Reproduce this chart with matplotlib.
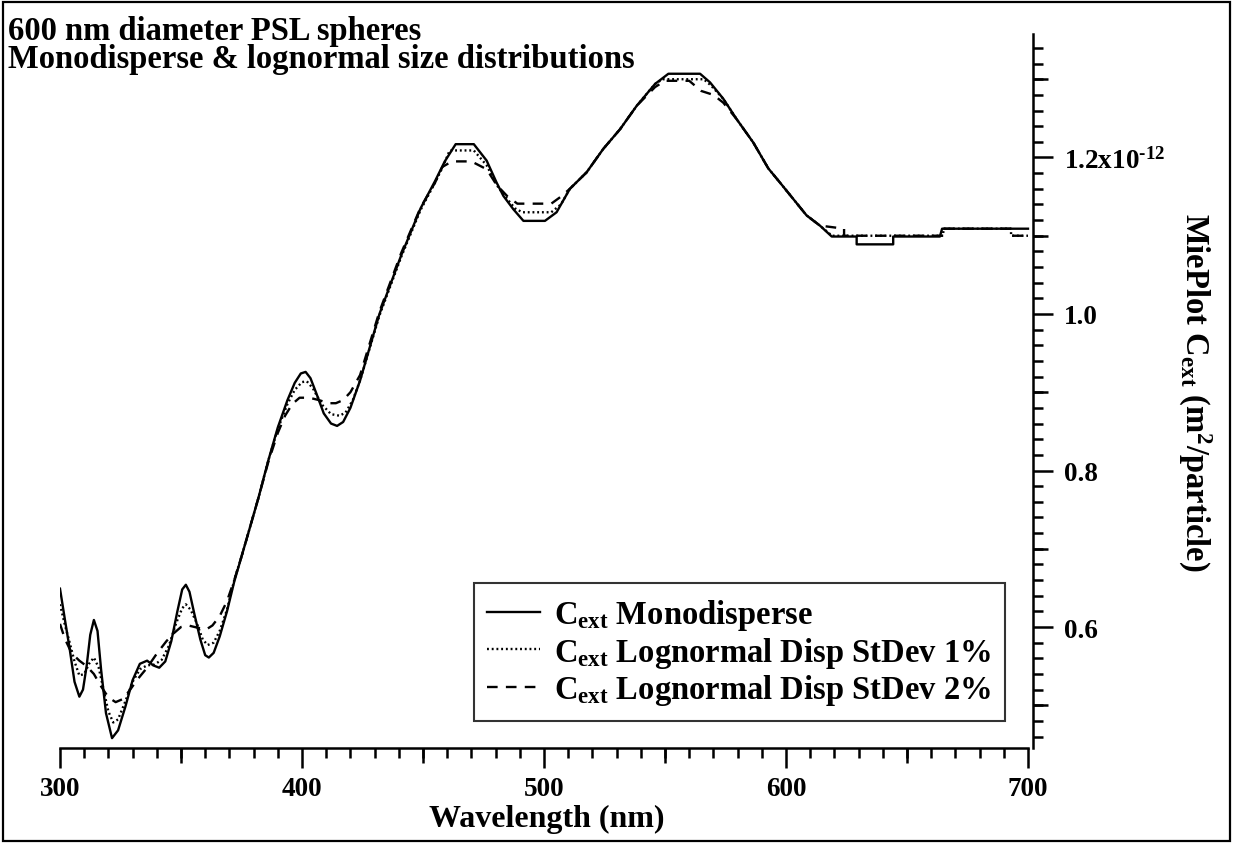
import matplotlib
matplotlib.use("Agg")
import matplotlib.pyplot as plt
from matplotlib.patches import Rectangle
from matplotlib.ticker import MultipleLocator, FixedLocator, NullFormatter

plt.rcParams["font.family"] = ["Liberation Serif", "DejaVu Serif"]
plt.rcParams["font.weight"] = "bold"
plt.rcParams["mathtext.fontset"] = "custom"
plt.rcParams["mathtext.rm"] = "Liberation Serif:bold"
plt.rcParams["mathtext.bf"] = "Liberation Serif:bold"
plt.rcParams["mathtext.it"] = "Liberation Serif:bold"

# Cext in units of 1e-12 m^2/particle
wl_mono = [300, 302, 304, 306, 308, 309.5, 311, 312.5, 314, 315.5, 317, 319, 321.5,
           324, 327, 330, 333, 336, 338.5, 341, 343.5, 346, 348.5, 350.5, 352,
           353.5, 355.5, 358, 360, 361.5, 363.5, 366, 369, 372, 375, 378, 382,
           386, 390, 394, 397, 399.5, 401.5, 403.5, 406, 409, 412, 414.5, 417,
           420, 424, 432, 441, 449, 455, 459, 463.5, 471, 476.3, 480.4, 483.2,
           487.3, 491.5, 500.4, 505.2, 510.7, 517.6, 524.5, 531.4, 538.3, 545.9,
           551.4, 564.5, 568.6, 574.1, 579.6, 586.5, 592.7, 597.5, 603, 608.5,
           614, 618.9, 629.2, 629.2, 644.3, 644.3, 663.6, 664.5, 700]
c_mono = [0.649, 0.610, 0.572, 0.530, 0.511, 0.520, 0.550, 0.590, 0.609, 0.595, 0.545,
          0.490, 0.458, 0.468, 0.498, 0.532, 0.553, 0.557, 0.551, 0.548, 0.556, 0.582,
          0.620, 0.648, 0.654, 0.645, 0.617, 0.584, 0.564, 0.561, 0.567, 0.588, 0.620,
          0.658, 0.690, 0.722, 0.765, 0.812, 0.855, 0.890, 0.912, 0.924, 0.926, 0.918,
          0.898, 0.873, 0.860, 0.857, 0.862, 0.880, 0.915, 1.000, 1.075, 1.135, 1.170,
          1.195, 1.217, 1.217, 1.196, 1.168, 1.151, 1.134, 1.119, 1.119, 1.130, 1.160,
          1.181, 1.211, 1.236, 1.266, 1.294, 1.307, 1.307, 1.296, 1.275, 1.249, 1.219,
          1.186, 1.168, 1.147, 1.126, 1.113, 1.099, 1.099, 1.089, 1.089, 1.099, 1.099,
          1.109, 1.109]

wl_sd1 = [300, 302, 304, 306, 308, 310, 312, 314, 316, 318, 320, 322, 324, 327,
          330, 333, 336, 339, 342, 345, 348, 350.5, 352, 354, 356.5, 359, 361,
          363.5, 366, 369, 372, 375, 378, 382, 386, 390, 394, 397, 400, 402,
          404.5, 408, 412, 415.5, 418, 421, 424, 432, 441, 449, 455, 458.5, 461,
          471, 476.3, 480.4, 484, 488, 491, 503, 507, 510.7, 517.6, 524.5, 531.4,
          538.3, 545.9, 549, 566, 569, 574.1, 579.6, 586.5, 592.7, 597.5, 603,
          608.5, 614, 619, 665, 665, 693, 693, 700]
c_sd1 = [0.629, 0.603, 0.580, 0.556, 0.538, 0.540, 0.553, 0.561, 0.548, 0.520, 0.492,
         0.478, 0.482, 0.505, 0.530, 0.546, 0.551, 0.552, 0.558, 0.576, 0.605, 0.624,
         0.629, 0.622, 0.605, 0.584, 0.577, 0.580, 0.595, 0.622, 0.660, 0.690, 0.722,
         0.765, 0.812, 0.853, 0.885, 0.903, 0.913, 0.914, 0.905, 0.885, 0.872, 0.870,
         0.874, 0.890, 0.915, 0.998, 1.073, 1.133, 1.168, 1.190, 1.209, 1.209, 1.190,
         1.165, 1.150, 1.135, 1.130, 1.130, 1.140, 1.160, 1.181, 1.211, 1.236, 1.266,
         1.294, 1.300, 1.300, 1.292, 1.275, 1.249, 1.219, 1.186, 1.168, 1.147, 1.126,
         1.113, 1.100, 1.100, 1.109, 1.109, 1.100, 1.100]

wl_sd2 = [300, 302, 304, 306, 308, 311, 314, 317, 320, 323, 326, 329, 332, 336,
          340, 344, 347, 350, 353, 357, 360.5, 363, 366, 369, 372, 375, 378, 382,
          386, 390, 393, 396, 399, 403, 407, 411, 414, 417, 420, 424, 432, 441,
          449, 455, 458, 462, 470, 476.3, 480.4, 485, 489, 503, 507, 510.7, 517.6,
          524.5, 531.4, 538.3, 545.9, 550, 560, 565, 570, 574.1, 579.6, 586.5,
          592.7, 597.5, 603, 608.5, 614, 624, 624, 665, 665, 693, 693, 700]
c_sd2 = [0.604, 0.585, 0.572, 0.563, 0.557, 0.550, 0.540, 0.524, 0.510, 0.504, 0.508,
         0.520, 0.533, 0.548, 0.566, 0.582, 0.592, 0.600, 0.602, 0.599, 0.597, 0.602,
         0.614, 0.633, 0.660, 0.690, 0.722, 0.765, 0.810, 0.848, 0.870, 0.885, 0.893,
         0.893, 0.890, 0.886, 0.886, 0.890, 0.900, 0.922, 1.003, 1.078, 1.136, 1.168,
         1.188, 1.195, 1.195, 1.185, 1.165, 1.150, 1.141, 1.141, 1.150, 1.160, 1.181,
         1.211, 1.236, 1.266, 1.290, 1.298, 1.298, 1.285, 1.280, 1.270, 1.249, 1.219,
         1.186, 1.168, 1.147, 1.126, 1.113, 1.109, 1.100, 1.100, 1.109, 1.109, 1.100,
         1.100]

labels = [r"C$_{\mathrm{ext}}$ Monodisperse",
          r"C$_{\mathrm{ext}}$ Lognormal Disp StDev 1%",
          r"C$_{\mathrm{ext}}$ Lognormal Disp StDev 2%"]

W, H = 1233, 845
fig = plt.figure(figsize=(W / 100, H / 100), dpi=100)
ax = fig.add_axes([60 / W, 1 - 749 / H, 973 / W, 714 / H])

lw = 1.7
ax.plot(wl_mono, c_mono, color="black", lw=lw, ls="-", label=labels[0])
ax.plot(wl_sd1, c_sd1, color="black", lw=lw, ls=(0, (0.8, 1.2)), label=labels[1])
ax.plot(wl_sd2, c_sd2, color="black", lw=lw, ls=(0, (4.5, 3.5)), label=labels[2])

ax.set_xlim(300, 702.07)
ax.set_ylim(0.4454, 1.3578)

for s in ["left", "top"]:
    ax.spines[s].set_visible(False)
ax.spines["bottom"].set_bounds(300, 700)
ax.spines["bottom"].set_linewidth(1.8)
ax.spines["right"].set_linewidth(1.8)

ax.xaxis.set_major_locator(FixedLocator([300, 400, 500, 600, 700]))
ax.xaxis.set_minor_locator(MultipleLocator(10))
ax.yaxis.set_major_locator(FixedLocator([0.6, 0.8, 1.0, 1.2]))
ax.yaxis.set_minor_locator(MultipleLocator(0.02))
ax.yaxis.tick_right()
ax.yaxis.set_label_position("right")
ax.set_yticklabels(["0.6", "0.8", "1.0", "1.2x10$^{\u201012}$"])

ax.tick_params(which="major", direction="out", length=14.5, width=1.8, labelsize=19.5, pad=6)
ax.tick_params(which="minor", direction="out", length=7, width=1.8)
ax.tick_params(axis="y", which="major", pad=8)

# medium ticks (Igor style) at the half-way marks
secx = ax.secondary_xaxis("bottom")
secx.spines["bottom"].set_visible(False)
secx.set_xticks([350, 450, 550, 650])
secx.xaxis.set_major_formatter(NullFormatter())
secx.tick_params(direction="out", length=11, width=1.8)
secy = ax.secondary_yaxis("right")
secy.spines["right"].set_visible(False)
secy.set_yticks([0.5, 0.7, 0.9, 1.1, 1.3])
secy.yaxis.set_major_formatter(NullFormatter())
secy.tick_params(direction="out", length=11, width=1.8)

ax.set_xlabel("Wavelength (nm)", fontsize=23, fontweight="bold", labelpad=2)
ax.set_ylabel(r"MiePlot C$_{\mathrm{ext}}$ (m$^{2}$/particle)", fontsize=23.5,
              fontweight="bold", rotation=270, labelpad=34)

fig.text(8 / W, 1 - 16 / H, "600 nm diameter PSL spheres\nMonodisperse & lognormal size distributions",
         fontsize=23.5, fontweight="bold", va="top", ha="left", linespacing=0.88)

leg = ax.legend(loc="lower right", bbox_to_anchor=(1005 / W, 1 - 722 / H),
                bbox_transform=fig.transFigure, fontsize=23.5, frameon=True, fancybox=False,
                handlelength=1.6, handletextpad=0.45, borderpad=0.42, labelspacing=0.08,
                borderaxespad=0)
leg.get_frame().set_edgecolor("black")
leg.get_frame().set_linewidth(1.5)

fig.patches.append(Rectangle((3 / W, 3 / H), 1 - 6 / W, 1 - 6 / H, transform=fig.transFigure,
                             fill=False, edgecolor="black", lw=1.6))

fig.savefig("out.png", dpi=100)
